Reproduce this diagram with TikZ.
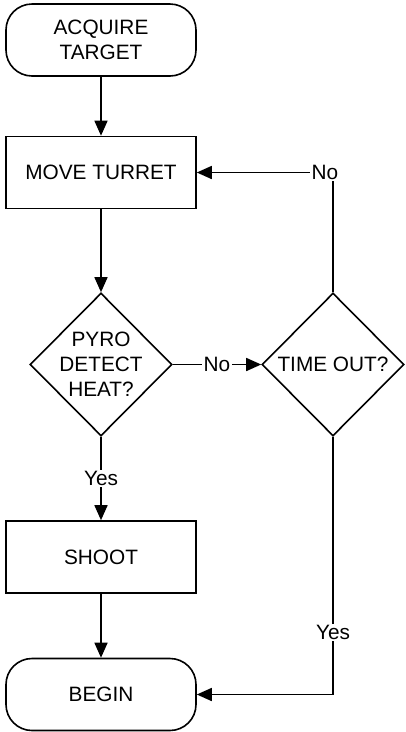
\documentclass[tikz,border=0pt]{standalone}
\usepackage{fontspec}
\setmainfont{Liberation Sans}
\usetikzlibrary{shapes.geometric,arrows.meta}
\begin{document}
\begin{tikzpicture}[x=1pt,y=-1pt,
  line width=1.6pt,
  every node/.style={font=\fontsize{20.8}{25}\selectfont},
  term/.style={draw, rounded corners=26pt, minimum width=190pt, minimum height=72pt, align=center, inner sep=0pt},
  proc/.style={draw, minimum width=190pt, minimum height=72pt, align=center, inner sep=0pt},
  dec/.style={draw, diamond, minimum width=142pt, minimum height=143pt, inner sep=0pt},
  lab/.style={fill=white, inner sep=1.5pt},
  arr/.style={-{Triangle[length=15pt,width=13pt]}}
]
\useasboundingbox (0,0) rectangle (405,732);
\node[term] (acq) at (101,40) {ACQUIRE\\TARGET};
\node[proc] (move) at (101,172.5) {MOVE TURRET};
\node[dec] (pyro) at (101,364.5) {};
\node[align=center] (pyrot) at (101,364.5) {PYRO\\DETECT\\HEAT?};
\node[dec] (tout) at (333,364.5) {};
\node (toutt) at (333,364.5) {TIME OUT?};
\node[proc] (shoot) at (101,557) {SHOOT};
\node[term] (begin) at (101,694.5) {BEGIN};
\draw[arr] (acq) -- (move);
\draw[arr] (move) -- (pyro);
\draw[arr] (pyro) -- node[lab]{Yes} (shoot);
\draw[arr] (shoot) -- (begin);
\draw[arr] (pyro) -- node[lab]{No} (tout);
\draw[arr] (tout.north) |- node[lab, pos=0.5, xshift=-8pt]{No} (move.east);
\draw[arr] (tout.south) |- node[lab, pos=0.38]{Yes} (begin.east);
\end{tikzpicture}
\end{document}
